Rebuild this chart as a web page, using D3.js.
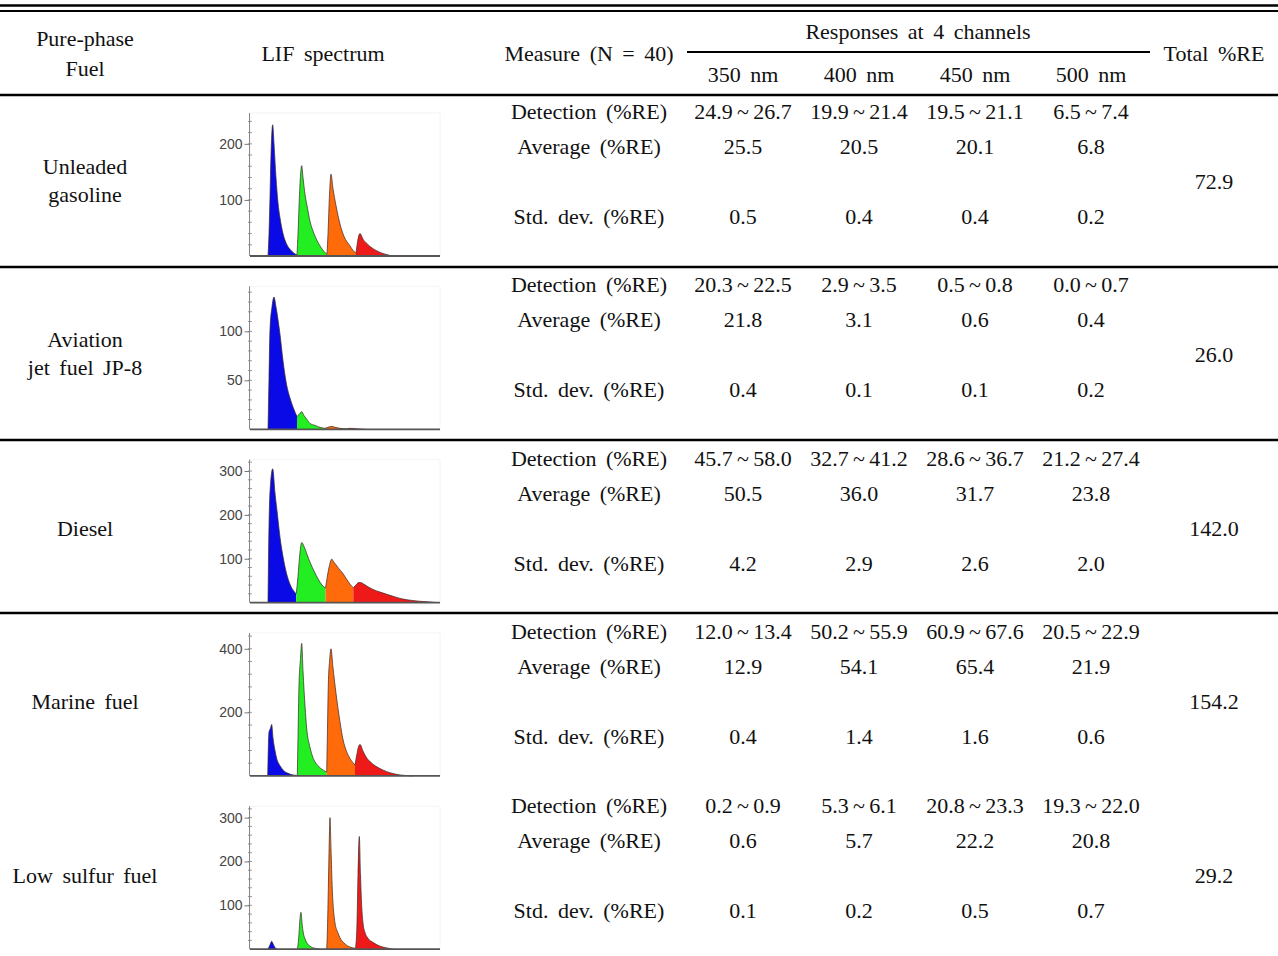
<!DOCTYPE html>
<html>
<head>
  <meta charset="utf-8">
  <title>LIF responses</title>
  <script src="https://d3js.org/d3.v7.min.js"></script>
  <style>
    body { margin: 0; background: #fff; }
    .tx { font-family: "Liberation Serif", "Times New Roman", serif; font-size: 22px; fill: #111; word-spacing: 4px; }
    .tick text { font-family: "Liberation Sans", Arial, sans-serif; font-size: 14px; fill: #444; }
  </style>
</head>
<body>
  <svg width="1278" height="956" id="mainsvg"></svg>
  <script>
    let svg = d3.select('#mainsvg');

    // table data
    const fuelNames = [["Unleaded", "gasoline"], ["Aviation", "jet fuel JP-8"], ["Diesel"], ["Marine fuel"], ["Low sulfur fuel"]];
    const channels = ["350 nm", "400 nm", "450 nm", "500 nm"];
    const measures = ["Detection (%RE)", "Average (%RE)", "Std. dev. (%RE)"];
    const detection = [
      ["24.9~26.7", "19.9~21.4", "19.5~21.1", "6.5~7.4"],
      ["20.3~22.5", "2.9~3.5", "0.5~0.8", "0.0~0.7"],
      ["45.7~58.0", "32.7~41.2", "28.6~36.7", "21.2~27.4"],
      ["12.0~13.4", "50.2~55.9", "60.9~67.6", "20.5~22.9"],
      ["0.2~0.9", "5.3~6.1", "20.8~23.3", "19.3~22.0"]
    ];
    const average = [
      [25.5, 20.5, 20.1, 6.8],
      [21.8, 3.1, 0.6, 0.4],
      [50.5, 36.0, 31.7, 23.8],
      [12.9, 54.1, 65.4, 21.9],
      [0.6, 5.7, 22.2, 20.8]
    ];
    const stdDev = [
      [0.5, 0.4, 0.4, 0.2],
      [0.4, 0.1, 0.1, 0.2],
      [4.2, 2.9, 2.6, 2.0],
      [0.4, 1.4, 1.6, 0.6],
      [0.1, 0.2, 0.5, 0.7]
    ];
    const totalRE = [72.9, 26.0, 142.0, 154.2, 29.2];

    // spectra: [time, intensity] per channel (350, 400, 450, 500 nm)
    const gasolineSpec = [
      [[18,0],[19,40],[20,105],[21,180],[22.7,234],[24,200],[26,140],[28,95],[30,68],[33,40],[36.7,21],[40,12],[44,5],[47,2]],
      [[47,2],[48,40],[49.5,110],[51.7,161],[53,140],[55,110],[57.5,85],[60,62],[64,40],[70,18],[74,8],[77,3]],
      [[77,3],[78,40],[79.5,110],[81,146],[83,120],[86,90],[90,57],[94,35],[100,18],[103,10],[106,5]],
      [[106,5],[107.5,25],[110,40],[113,30],[117,22],[120,17],[126,10],[132,5],[138,2],[142,0]]
    ];
    const jetSpec = [
      [[18,0],[19,52],[20,102],[22,125],[24,135],[26,125],[28,112],[30,97],[33,70],[36.7,45],[40,32],[43.3,22],[47,13]],
      [[47,13],[49,15],[51.7,18],[54,14],[57,10],[60,6],[65,4],[70,2],[75,1]],
      [[75,1],[78,2],[81.7,3],[85,2],[90,1],[96,0.5]],
      [[96,0.5],[100,1],[104,0.8],[110,0.3],[116,0]]
    ];
    const dieselSpec = [
      [[18,0],[19,176],[20.5,270],[22.7,305],[25,250],[27.5,200],[30,149],[33,105],[36.7,65],[40,42],[45,23],[46.3,20]],
      [[46.3,20],[48,60],[50,115],[51.7,137],[54,128],[57,110],[60,92],[64,72],[68.3,53],[72,40],[75.5,33]],
      [[75.5,33],[77,55],[79.5,85],[81.7,99],[84,92],[88,80],[93.3,65],[97,52],[100,42],[103.3,34]],
      [[103.3,34],[106,40],[108,45],[110,46],[114,42],[118,36],[123,30],[130,24],[136.7,19],[145,13],[153,8],[162,5],[170,3],[180,1.5],[187,0]]
    ];
    const marineSpec = [
      [[17.7,0],[19,139],[20.5,150],[21.7,162],[23,120],[25,80],[26.7,55],[30,32],[33.3,18],[38,8],[43,3],[47.3,1]],
      [[47.3,1],[48,120],[49,286],[50.5,370],[51.7,417],[53,330],[55,220],[56.7,149],[60,90],[63.3,55],[68,32],[73.3,18],[76.7,12]],
      [[76.7,12],[77.5,150],[78.3,286],[79.5,360],[81,400],[83,340],[86,260],[90,170],[93,115],[96.7,76],[100,55],[105,34]],
      [[105,34],[107,70],[108.5,92],[110,99],[113,78],[116,60],[120,45],[126,30],[133.3,18],[140,10],[150,3],[163,0]]
    ];
    const lowSulfurSpec = [
      [[18,0],[20,10],[21.7,18],[23.5,10],[25,4],[27,0]],
      [[47.5,0],[49,35],[50,70],[51,84],[52,60],[53.3,37],[55,24],[56.7,15],[60,7],[65,2],[70,0]],
      [[76.7,0],[77.5,50],[78.3,136],[79.2,240],[80,300],[81,230],[82.3,136],[83.5,90],[85,60],[87.5,40],[90,26],[95,12],[100,5],[105.5,2]],
      [[105.5,2],[107,60],[108,170],[109.3,257],[110.5,170],[111.7,98],[113,60],[115,38],[118,25],[123.3,15],[130,7],[136.7,3],[143,0]]
    ];
    const spectra = [gasolineSpec, jetSpec, dieselSpec, marineSpec, lowSulfurSpec];
    const yMaxes = [255, 146, 326, 450, 326];
    const yTicks = [[100, 200], [50, 100], [100, 200, 300], [200, 400], [100, 200, 300]];
    const chanColors = ["#0a0ae6", "#22ee22", "#ff6a0a", "#ee1a1a"];

    const W = 1278;
    const fmt = d3.format(".1f");
    const colX = [743, 859, 975, 1091];
    const rowY = i => 111 + i * 173.5;

    function hline(y, x1, x2, w) {
      svg.append('line').attr('x1', x1).attr('x2', x2).attr('y1', y).attr('y2', y)
        .attr('stroke', '#000').attr('stroke-width', w);
    }
    function txt(x, y, s) {
      return svg.append('text').attr('class', 'tx').attr('x', x).attr('y', y)
        .attr('text-anchor', 'middle').attr('dominant-baseline', 'central').text(s);
    }

    // rules
    hline(5.5, 0, W, 2.5);
    hline(11, 0, W, 2);
    hline(95, 0, W, 2.5);
    [267, 440, 613].forEach(y => hline(y, 0, W, 2.5));
    hline(52, 687, 1150, 2);

    // header
    txt(85, 38, "Pure-phase");
    txt(85, 68, "Fuel");
    txt(323, 53, "LIF spectrum");
    txt(589, 53, "Measure (N = 40)");
    txt(918, 31, "Responses at 4 channels");
    channels.forEach((c, j) => txt(colX[j], 74, c));
    txt(1214, 53, "Total %RE");

    // body rows
    fuelNames.forEach((names, i) => {
      const y0 = rowY(i);
      const mid = y0 + 70;
      if (names.length === 2) {
        txt(85, mid - 15, names[0]);
        txt(85, mid + 13, names[1]);
      } else {
        txt(85, mid, names[0]);
      }
      txt(589, y0, measures[0]);
      txt(589, y0 + 35, measures[1]);
      txt(589, y0 + 105, measures[2]);
      channels.forEach((c, j) => {
        txt(colX[j], y0, detection[i][j].replace('~', '\u2009~\u2009'));
        txt(colX[j], y0 + 35, fmt(average[i][j]));
        txt(colX[j], y0 + 105, fmt(stdDev[i][j]));
      });
      txt(1214, mid, fmt(totalRE[i]));

      // spectrum
      const top = 113 + i * 173.3, bottom = top + 143;
      const x = d3.scaleLinear().domain([0, 190]).range([250, 440]);
      const y = d3.scaleLinear().domain([0, yMaxes[i]]).range([bottom, top]);
      const g = svg.append('g');

      g.append('rect').attr('x', 250).attr('y', top).attr('width', 190).attr('height', bottom - top)
        .attr('fill', 'none').attr('stroke', '#f4f4f4');

      const area = d3.area().x(d => x(d[0])).y0(bottom).y1(d => y(d[1])).curve(d3.curveMonotoneX);
      const line = d3.line().x(d => x(d[0])).y(d => y(d[1])).curve(d3.curveMonotoneX);
      spectra[i].forEach((tr, k) => {
        g.append('path').datum(tr).attr('d', area).attr('fill', chanColors[k]);
        g.append('path').datum(tr).attr('d', line).attr('fill', 'none')
          .attr('stroke', '#3a2a2a').attr('stroke-width', 0.9).attr('opacity', 0.8);
      });

      // minor ticks
      const step = yTicks[i][1] - yTicks[i][0];
      const minor = d3.range(step / 5, yMaxes[i], step / 5);
      g.selectAll('.mn').data(minor).enter().append('line')
        .attr('x1', 248).attr('x2', 252).attr('y1', d => y(d)).attr('y2', d => y(d))
        .attr('stroke', '#999').attr('stroke-width', 1);

      const ax = g.append('g').attr('transform', 'translate(249.5,0)')
        .call(d3.axisLeft(y).tickValues(yTicks[i]).tickSize(5).tickPadding(2).tickFormat(d3.format('d')));
      ax.select('.domain').attr('stroke', '#888').attr('d', `M0,${top}V${bottom}`);
      ax.selectAll('.tick line').attr('stroke', '#777');

      g.append('line').attr('x1', 250).attr('x2', 440).attr('y1', bottom).attr('y2', bottom)
        .attr('stroke', '#555').attr('stroke-width', 1.8);
    });
  </script>
</body>
</html>
